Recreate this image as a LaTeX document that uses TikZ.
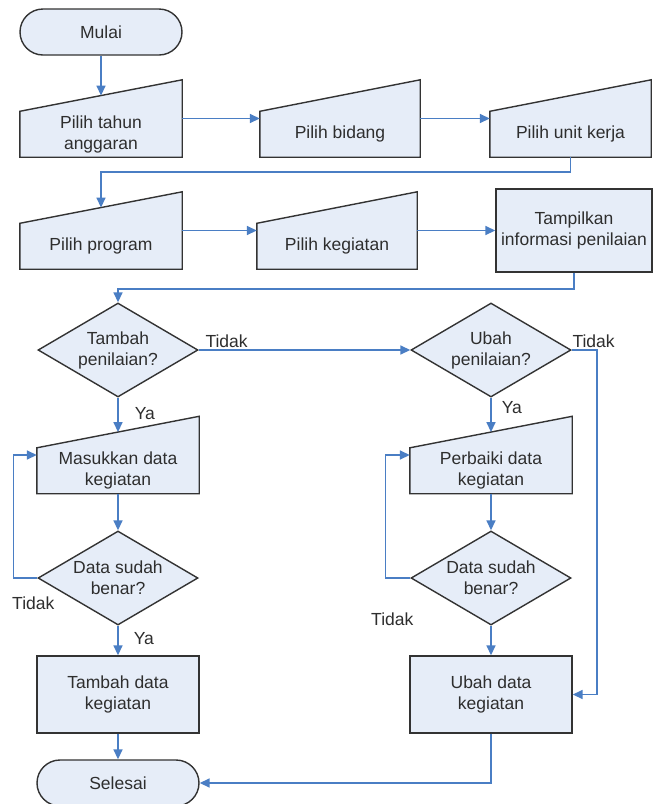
\documentclass[tikz,border=0pt]{standalone}
\usepackage{fontspec}
\setmainfont{Liberation Sans}
\usetikzlibrary{shapes.geometric,arrows.meta,calc}
\definecolor{boxfill}{HTML}{E6EDF8}
\definecolor{boxline}{HTML}{333333}
\definecolor{connc}{HTML}{4A7EC4}
\definecolor{txtc}{HTML}{2E2E2E}
\tikzset{
  base/.style={font=\fontsize{17.5}{21}\selectfont, text=txtc, align=center},
  shp/.style={fill=boxfill, draw=boxline, line width=1.4pt, line join=miter},
  terminal/.style={base, shp, rectangle, rounded corners=23pt, minimum width=162pt, minimum height=46pt, inner sep=0pt},
  procbox/.style={base, shp, rectangle, minimum width=162pt, minimum height=77pt, inner sep=0pt},
  mbox/.style={rectangle, draw=none, minimum height=77pt, inner sep=0pt},
  mtext/.style={base, inner sep=0pt},
  decision/.style={base, shp, diamond, minimum width=160pt, minimum height=94pt, inner sep=0pt, shape aspect=1.7},
  flow/.style={draw=connc, line width=1.6pt, -{Triangle[length=10pt,width=9pt]}},
  lbl/.style={base, inner sep=0pt}
}
\newcommand\manualbox[4]{%
  \node[mbox, minimum width=#3] (#1) at (#2) {};
  \path[shp] (#1.south west) -- (#1.south east) -- (#1.north east) -- ($(#1.north west)+(0,-31.5)$) -- cycle;
  \node[mtext] (#1-t) at ($(#1.center)+(0,-15.75)$) {#4};
  \coordinate (#1-top) at ($(#1.north)+(0,-15.75)$);
}
\begin{document}
\begin{tikzpicture}[x=1pt,y=1pt]
\useasboundingbox (0,0) rectangle (653,-804);
\fill[white] (0,0) rectangle (653,-804);

% row 0
\node[terminal] (mulai) at (101,-32) {Mulai};

% row 1
\manualbox{pt}{101,-118.5}{162pt}{Pilih tahun\\anggaran}
\manualbox{pb}{340,-118.5}{160pt}{Pilih bidang}
\manualbox{pu}{570.5,-118.5}{161pt}{Pilih unit kerja}

% row 2
\manualbox{pp}{101,-230.5}{162pt}{Pilih program}
\manualbox{pk}{337,-230.5}{160pt}{Pilih kegiatan}
\node[procbox, minimum width=156pt, minimum height=83pt] (tp) at (574,-230.5) {Tampilkan\\informasi penilaian};

% decisions
\node[decision] (d1) at (118,-350) {Tambah\\penilaian?};
\node[decision] (d2) at (491,-350) {Ubah\\penilaian?};

% input boxes
\manualbox{ms}{118,-455}{162pt}{Masukkan data\\kegiatan}
\manualbox{pr}{491,-455}{162pt}{Perbaiki data\\kegiatan}

% check decisions
\node[decision] (d3) at (118,-578) {Data sudah\\benar?};
\node[decision] (d4) at (491,-578) {Data sudah\\benar?};

% process boxes
\node[procbox] (td) at (118,-694.5) {Tambah data\\kegiatan};
\node[procbox] (ud) at (491,-694.5) {Ubah data\\kegiatan};

% end
\node[terminal] (se) at (118,-783) {Selesai};

% connectors
\draw[flow] (mulai.south) -- (pt-top);
\draw[flow] (pt.east) -- (pb.west);
\draw[flow] (pb.east) -- (pu.west);
\draw[flow] (pu.south) -- ++(0,-15) -| (pp-top);
\draw[flow] (pp.east) -- (pk.west);
\draw[flow] (pk.east) -- (tp.west);
\draw[flow] (tp.south) -- ++(0,-16) -| (d1.north);

\draw[flow] (d1.east) -- node[lbl, pos=0, anchor=south west, xshift=6pt, yshift=2pt] {Tidak} (d2.west);
\draw[flow] (d1.south) -- node[lbl, pos=0.45, anchor=west, xshift=16pt] {Ya} (ms-top);
\draw[flow] (ms.south) -- (d3.north);
\draw[flow] (d3.west) -- node[lbl, pos=0, xshift=-4pt, yshift=-25pt] {Tidak} ++(-24,0) |- (ms.west);
\draw[flow] (d3.south) -- node[lbl, pos=0.42, anchor=west, xshift=15pt] {Ya} (td.north);
\draw[flow] (td.south) -- (se.north);

\draw[flow] (d2.east) -- node[lbl, pos=0, anchor=south west, yshift=2pt] {Tidak} ++(25,0) |- (ud.east);
\draw[flow] (d2.south) -- node[lbl, pos=0.3, anchor=west, xshift=10pt] {Ya} (pr-top);
\draw[flow] (pr.south) -- (d4.north);
\draw[flow] (d4.west) -- node[lbl, pos=0, xshift=-18pt, yshift=-41pt] {Tidak} ++(-25,0) |- (pr.west);
\draw[flow] (d4.south) -- (ud.north);
\draw[flow] (ud.south) |- (se.east);
\end{tikzpicture}
\end{document}
